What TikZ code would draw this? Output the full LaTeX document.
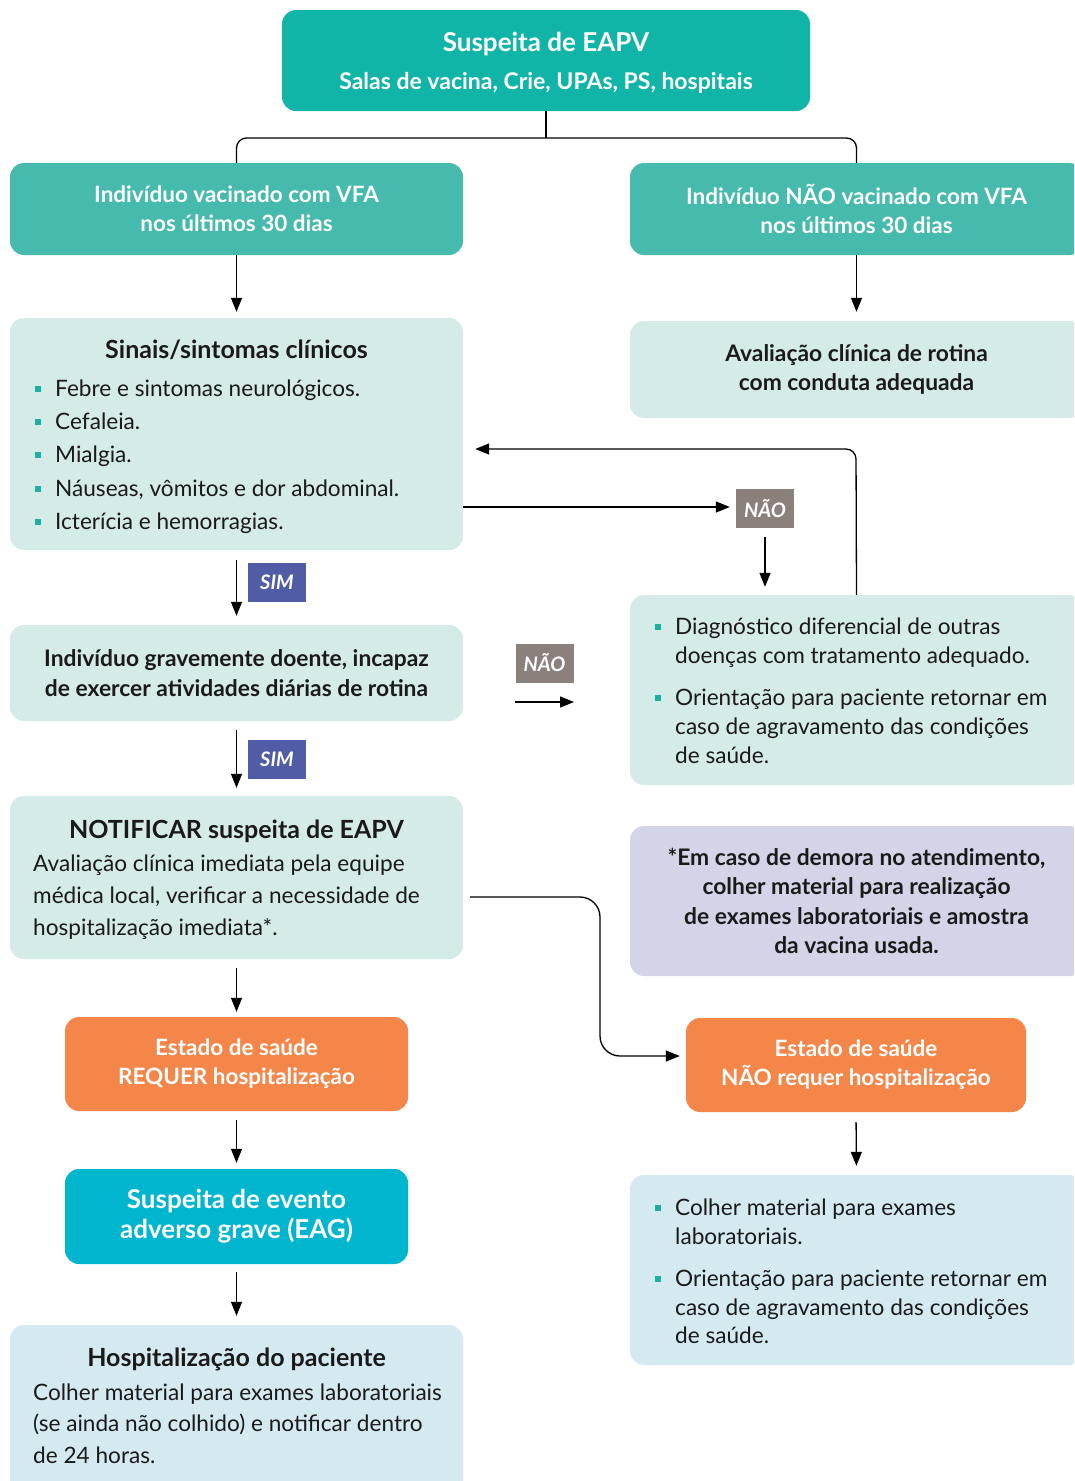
\documentclass[tikz,border=0pt]{standalone}
\usepackage{fontspec}
\setmainfont{Lato}
\usetikzlibrary{arrows.meta}
\definecolor{topc}{HTML}{11B5A8}
\definecolor{hdrc}{HTML}{45BAAD}
\definecolor{lightc}{HTML}{D5EBE7}
\definecolor{lblue}{HTML}{D4EAF0}
\definecolor{purc}{HTML}{D4D4E9}
\definecolor{orc}{HTML}{F4864A}
\definecolor{cyanc}{HTML}{00B5CE}
\definecolor{simc}{HTML}{505DA6}
\definecolor{naoc}{HTML}{8A817D}
\definecolor{bulc}{HTML}{1BB0A0}
\definecolor{txtc}{HTML}{1A1A1A}
\newcommand\setfs[2]{\fontsize{#1}{#2}\selectfont}
\newcommand\bitem[4]{\node[bul] (#1b) at ([xshift=-17pt]#2,#3) {}; \node[body] (#1) at (#2,#3) {#4};}
\newcommand\bline[4]{\node[body] (#1) at (#2,#3) {#4};}
\tikzset{
  box/.style={rounded corners=14pt, inner sep=0pt, draw=none},
  hdrtxt/.style={text=white, font=\setfs{22.5}{29}\bfseries, align=center},
  blk/.style={text=txtc, font=\setfs{22.8}{29.3}\bfseries, align=center},
  ttl/.style={text=txtc, font=\setfs{25}{28}\bfseries, anchor=mid, inner sep=0pt, yshift=-6pt},
  body/.style={text=txtc, font=\setfs{22.6}{26}, anchor=mid west, inner sep=0pt, yshift=-6pt},
  bul/.style={fill=bulc, minimum size=6pt, inner sep=0pt, yshift=-1pt},
  lab/.style={text=white, font=\setfs{20}{22}\bfseries\itshape, minimum width=58pt, minimum height=39pt, inner sep=0pt},
  conn/.style={draw=black, line width=1.3pt},
  arr/.style={conn, -{Triangle[length=14pt,width=11pt]}},
}
\begin{document}
\begin{tikzpicture}[x=1pt,y=-1pt]
\useasboundingbox (0,0) rectangle (1074,1481);
\clip (0,0) rectangle (1074,1481);
\fill[white] (0,0) rectangle (1074,1481);

% top
\node[box, fill=topc, minimum width=528pt, minimum height=101pt] (top) at (546,60.5) {};
\node[text=white, font=\setfs{26}{30}\bfseries, inner sep=0pt, anchor=mid] (t1) at (546,49) {Suspeita de EAPV};
\node[text=white, font=\setfs{23}{27}\bfseries, inner sep=0pt, anchor=mid] (t2) at (546,87) {Salas de vacina, Crie, UPAs, PS, hospitais};

% header row
\node[box, fill=hdrc, minimum width=453pt, minimum height=92pt, hdrtxt] (vfa) at (236.5,209) {Indivíduo vacinado com VFA\\nos últimos 30 dias};
\node[box, fill=hdrc, minimum width=453pt, minimum height=92pt, hdrtxt] (nvfa) at (856.5,209) {Indivíduo NÃO vacinado com VFA\\nos últimos 30 dias};

\coordinate (j1) at (546,138);
\draw[conn] (top.south) -- (j1);
\draw[conn, rounded corners=10pt] (vfa.north) |- (j1) -| (nvfa.north);

% sinais
\node[box, fill=lightc, minimum width=453pt, minimum height=232pt] (sinais) at (236.5,434) {};
\node[ttl] (sinaist) at (236.5,350) {Sinais/sintomas clínicos};
\bitem{s1}{55}{388}{Febre e sintomas neurológicos.}
\bitem{s2}{55}{421}{Cefaleia.}
\bitem{s3}{55}{454}{Mialgia.}
\bitem{s4}{55}{488}{Náuseas, vômitos e dor abdominal.}
\bitem{s5}{55}{521}{Icterícia e hemorragias.}

% aval
\node[box, fill=lightc, minimum width=453pt, minimum height=97pt, blk] (aval) at (856.5,369.5) {Avaliação clínica de rotina\\com conduta adequada};

\draw[arr, shorten >=6pt] (vfa.south) -- (sinais.north);
\draw[arr, shorten >=9pt] (nvfa.south) -- (aval.north);

% NAO 1
\node[lab, fill=naoc] (nao1) at (765,508.5) {NÃO};
\draw[arr, shorten >=6pt] (sinais.east |- 0,507) -- (nao1.west |- 0,507);

% diag
\node[box, fill=lightc, minimum width=453pt, minimum height=190pt] (diag) at (856.5,690) {};
\bitem{d1}{675}{626}{Diagnóstico diferencial de outras}
\bline{d1a}{675}{655}{doenças com tratamento adequado.}
\bitem{d2}{675}{697}{Orientação para paciente retornar em}
\bline{d2a}{675}{726}{caso de agravamento das condições}
\bline{d2b}{675}{755}{de saúde.}

\draw[arr, shorten <=9pt, shorten >=8pt] (nao1.south) -- (nao1.south |- diag.north);
\coordinate (k3) at (856,449);
\draw[arr, rounded corners=10pt, shorten >=12pt] (diag.north) -- (k3) -- (sinais.east |- k3);

% grav
\node[box, fill=lightc, minimum width=453pt, minimum height=96pt, blk] (grav) at (236.5,673) {Indivíduo gravemente doente, incapaz\\de exercer atividades diárias de rotina};
\draw[arr, shorten <=10pt, shorten >=9pt] (sinais.south) -- (grav.north);
\node[lab, fill=simc] (sim1) at (277,582.5) {SIM};

% NAO 2
\node[lab, fill=naoc] (nao2) at (544.5,663) {NÃO};
\coordinate (a1) at (515,702);
\coordinate (a2) at (574,702);
\draw[arr] (a1) -- (a2);

% notif
\node[box, fill=lightc, minimum width=453pt, minimum height=163pt] (notif) at (236.5,877.5) {};
\node[ttl] (notift) at (236.5,830) {NOTIFICAR suspeita de EAPV};
\bline{n1}{33}{863}{Avaliação clínica imediata pela equipe}
\bline{n2}{33}{895}{médica local, verificar a necessidade de}
\bline{n3}{33}{927}{hospitalização imediata*.}
\draw[arr, shorten <=9pt, shorten >=8pt] (grav.south) -- (notif.north);
\node[lab, fill=simc] (sim2) at (277,759.5) {SIM};

% purple
\node[box, fill=purc, minimum width=453pt, minimum height=150pt, blk] (pur) at (856.5,901) {*Em caso de demora no atendimento,\\colher material para realização\\de exames laboratoriais e amostra\\da vacina usada.};

% orange
\node[box, fill=orc, minimum width=343pt, minimum height=94pt, hdrtxt] (orl) at (236.5,1064) {Estado de saúde\\REQUER hospitalização};
\node[box, fill=orc, minimum width=340pt, minimum height=94pt, hdrtxt] (orr) at (856,1065) {Estado de saúde\\NÃO requer hospitalização};
\draw[arr, shorten <=9pt, shorten >=5pt] (notif.south) -- (orl.north);

\coordinate (k1) at (600,897);
\coordinate (k2) at (600,1056);
\draw[arr, rounded corners=20pt, shorten <=7pt, shorten >=6pt] (notif.east |- k1) -- (k1) -- (k2) -- (orr.west |- k2);

% eag
\node[box, fill=cyanc, minimum width=343pt, minimum height=95pt, text=white, font=\setfs{26}{30}\bfseries, align=center] (eag) at (236.5,1216.5) {Suspeita de evento\\adverso grave (EAG)};
\draw[arr, shorten <=9pt, shorten >=6pt] (orl.south) -- (eag.north);

% hosp
\node[box, fill=lblue, minimum width=453pt, minimum height=190pt] (hosp) at (236.5,1420) {};
\node[ttl] (hospt) at (236.5,1358) {Hospitalização do paciente};
\bline{h1}{33}{1392}{Colher material para exames laboratoriais}
\bline{h2}{33}{1423}{(se ainda não colhido) e notificar dentro}
\bline{h3}{33}{1455}{de 24 horas.}
\draw[arr, shorten <=8pt, shorten >=9pt] (eag.south) -- (hosp.north);

% right bottom
\node[box, fill=lblue, minimum width=453pt, minimum height=190pt] (rb) at (856.5,1270) {};
\bitem{r1}{675}{1207}{Colher material para exames}
\bline{r1a}{675}{1236}{laboratoriais.}
\bitem{r2}{675}{1278}{Orientação para paciente retornar em}
\bline{r2a}{675}{1307}{caso de agravamento das condições}
\bline{r2b}{675}{1335}{de saúde.}
\draw[arr, shorten <=10pt, shorten >=9pt] (orr.south) -- (rb.north);
\end{tikzpicture}
\end{document}
